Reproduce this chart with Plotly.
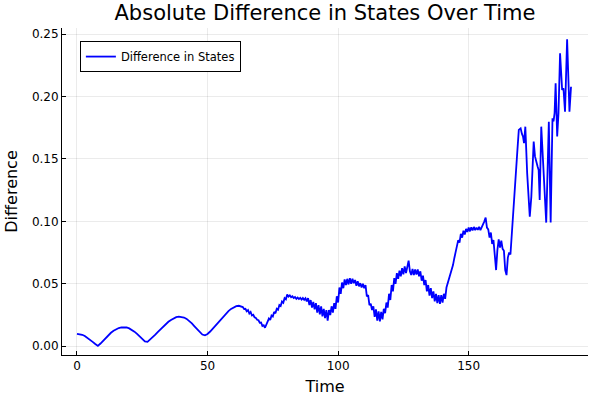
import numpy as np
import plotly.graph_objects as go

# Segment A: smooth part, t = 0..63 step 1
time_a = list(range(0, 64))
diff_a = [
    0.0100, 0.0098, 0.0092, 0.0082, 0.0068, 0.0052, 0.0035, 0.0018, 0.0003, 0.0022,
    0.0045, 0.0068, 0.0089, 0.0108, 0.0124, 0.0137, 0.0146, 0.0151, 0.0152, 0.0150,
    0.0143, 0.0132, 0.0117, 0.0099, 0.0079, 0.0058, 0.0038, 0.0035, 0.0052, 0.0072,
    0.0093, 0.0115, 0.0137, 0.0158, 0.0178, 0.0196, 0.0211, 0.0224, 0.0233, 0.0237,
    0.0236, 0.0230, 0.0219, 0.0203, 0.0183, 0.0160, 0.0136, 0.0113, 0.0094, 0.0088,
    0.0098, 0.0118, 0.0141, 0.0166, 0.0191, 0.0216, 0.0240, 0.0262, 0.0282, 0.0299,
    0.0312, 0.0321, 0.0324, 0.0318,
]

# Segment B: noisy part, t = 63.5..168 step 0.5
time_b = [63.5 + 0.5 * i for i in range(210)]
diff_b = [
    0.0314, 0.0298, 0.0300, 0.0280, 0.0290, 0.0262, 0.0274, 0.0246, 0.0252, 0.0232,
    0.0226, 0.0212, 0.0208, 0.0188, 0.0190, 0.0162, 0.0168, 0.0148, 0.0175, 0.0190,
    0.0222, 0.0210, 0.0246, 0.0238, 0.0275, 0.0264, 0.0300, 0.0292, 0.0330, 0.0322,
    0.0358, 0.0348, 0.0385, 0.0376, 0.0415, 0.0398, 0.0408, 0.0392, 0.0400, 0.0386,
    0.0394, 0.0380, 0.0390, 0.0378, 0.0388, 0.0374, 0.0386, 0.0372, 0.0384, 0.0360,
    0.0385, 0.0330, 0.0370, 0.0310, 0.0355, 0.0295, 0.0345, 0.0270, 0.0330, 0.0255,
    0.0320, 0.0240, 0.0300, 0.0225, 0.0290, 0.0205, 0.0290, 0.0250, 0.0320, 0.0270,
    0.0345, 0.0300, 0.0400, 0.0350, 0.0470, 0.0420, 0.0510, 0.0465, 0.0535, 0.0490,
    0.0540, 0.0495, 0.0545, 0.0500, 0.0540, 0.0505, 0.0530, 0.0485, 0.0520, 0.0480,
    0.0505, 0.0470, 0.0500, 0.0465, 0.0490, 0.0400, 0.0410, 0.0330, 0.0340, 0.0290,
    0.0320, 0.0235, 0.0295, 0.0205, 0.0280, 0.0200, 0.0275, 0.0215, 0.0300, 0.0265,
    0.0350, 0.0310, 0.0420, 0.0370, 0.0490, 0.0440, 0.0545, 0.0500, 0.0585, 0.0540,
    0.0605, 0.0560, 0.0625, 0.0575, 0.0640, 0.0585, 0.0650, 0.0685, 0.0600, 0.0570,
    0.0620, 0.0570, 0.0615, 0.0575, 0.0615, 0.0560, 0.0600, 0.0525, 0.0565, 0.0490,
    0.0530, 0.0440, 0.0490, 0.0405, 0.0465, 0.0385, 0.0440, 0.0360, 0.0420, 0.0345,
    0.0410, 0.0340, 0.0410, 0.0350, 0.0420, 0.0380, 0.0470, 0.0505, 0.0555, 0.0590,
    0.0625, 0.0650, 0.0705, 0.0750, 0.0815, 0.0850, 0.0830, 0.0900, 0.0870, 0.0925,
    0.0895, 0.0940, 0.0915, 0.0950, 0.0920, 0.0952, 0.0928, 0.0955, 0.0930, 0.0950,
    0.0932, 0.0955, 0.0930, 0.0952, 0.0965, 0.1000, 0.1030, 0.0950, 0.0935, 0.0870,
    0.0910, 0.0820, 0.0850, 0.0690, 0.0610, 0.0770, 0.0855, 0.0790, 0.0845, 0.0780,
    0.0765, 0.0610, 0.0570, 0.0710, 0.0750, 0.0735, 0.0900, 0.1040, 0.1250, 0.1440,
]

# Segment C: spiky tail
time_c = [168.6, 169.2, 169.9, 170.4, 170.8, 171.2, 171.7, 172.4, 173.0, 173.4,
          174.0, 174.9, 175.4, 175.9, 176.4, 176.8, 177.2, 177.8, 178.3, 178.8,
          179.3, 179.7, 180.7, 181.4, 182.1, 182.5, 182.9, 183.3, 183.9, 184.4,
          185.0, 185.4, 185.8, 186.3, 186.9, 187.7, 188.2, 188.6, 189.2]
diff_c = [0.1550, 0.1732, 0.1745, 0.1700, 0.1680, 0.1626, 0.1758, 0.1386, 0.1150, 0.1038,
          0.1198, 0.1638, 0.1520, 0.1466, 0.1440, 0.1412, 0.1172, 0.1758, 0.1550, 0.1278,
          0.1100, 0.0990, 0.1798, 0.0990, 0.1826, 0.1800, 0.1866, 0.2106, 0.1680, 0.1866,
          0.2346, 0.2200, 0.2052, 0.2066, 0.1878, 0.2458, 0.2150, 0.1878, 0.2078]

time = time_a + time_b + time_c
difference = diff_a + diff_b + diff_c

x_ticks = [0, 50, 100, 150]
y_ticks = [0.00, 0.05, 0.10, 0.15, 0.20, 0.25]

FONT = "DejaVu Sans"

fig = go.Figure()
fig.add_trace(go.Scatter(
    x=time, y=difference, mode="lines", name="Difference in States",
    line=dict(color="rgb(0,0,255)", width=1.8),
))

axis_common = dict(
    showline=True, linecolor="black", linewidth=1, mirror=False,
    showgrid=True, gridcolor="rgba(0,0,0,0.08)", gridwidth=1,
    zeroline=False, ticks="inside", ticklen=4, tickcolor="black",
    tickfont=dict(family=FONT, size=12, color="black"),
    automargin=False,
)

fig.update_layout(
    width=600, height=400,
    paper_bgcolor="white", plot_bgcolor="white",
    margin=dict(l=62, r=12, t=28, b=45),
    title=dict(text="Absolute Difference in States Over Time",
               x=(62 + 588) / 2 / 600, xanchor="center", y=0.9875, yanchor="top",
               font=dict(family=FONT, size=21, color="black")),
    xaxis=dict(axis_common, range=[-5.74, 195.7], tickvals=x_ticks,
               ticktext=[str(v) for v in x_ticks],
               title=dict(text="Time", font=dict(family=FONT, size=16, color="black"),
                          standoff=8)),
    yaxis=dict(axis_common, range=[-0.0070, 0.2548], tickvals=y_ticks,
               ticktext=[f"{v:.2f}" for v in y_ticks],
               title=dict(text="Difference", font=dict(family=FONT, size=16, color="black"),
                          standoff=10)),
    showlegend=True,
    legend=dict(x=0.034, y=0.96, xanchor="left", yanchor="top",
                bordercolor="black", borderwidth=1, bgcolor="white",
                font=dict(family=FONT, size=11.5, color="black")),
)

fig.write_html("out.html", config={"displayModeBar": False},
               post_script="document.body.style.margin='0';")
